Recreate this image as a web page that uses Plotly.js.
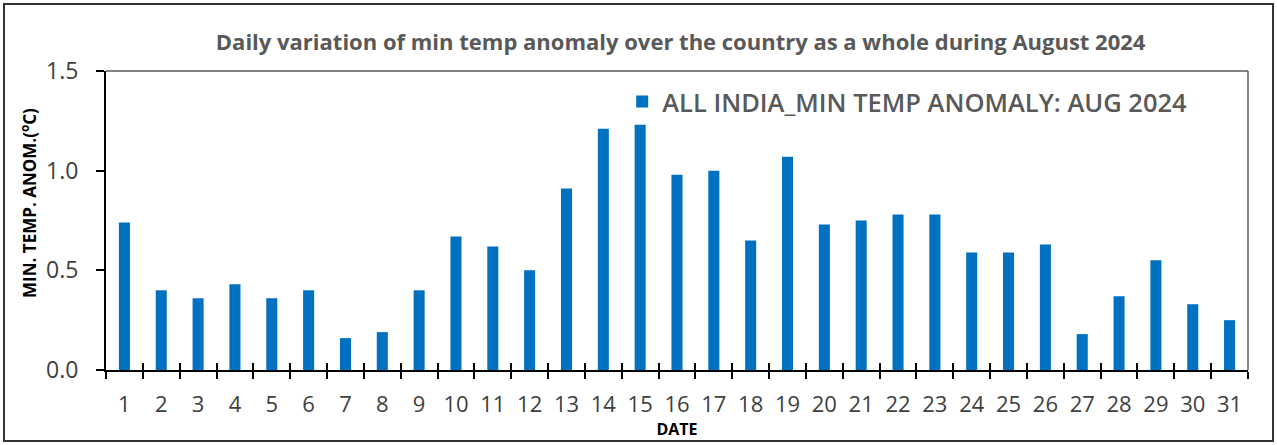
<!DOCTYPE html>
<html><head><meta charset="utf-8">
<script src="https://cdn.plot.ly/plotly-3.0.1.min.js"></script>
<style>
body{margin:0;background:#fff;}
#chart{width:1277px;height:445px;}
#frame{position:absolute;left:3px;top:3px;width:1271px;height:439px;box-sizing:border-box;border:2px solid #333;pointer-events:none;}
</style></head>
<body>
<div id="chart"></div>
<div id="frame"></div>
<script>
const days = [1,2,3,4,5,6,7,8,9,10,11,12,13,14,15,16,17,18,19,20,21,22,23,24,25,26,27,28,29,30,31];
const anomaly = [0.74,0.40,0.36,0.43,0.36,0.40,0.16,0.19,0.40,0.67,0.62,0.50,0.91,1.21,1.23,0.98,1.00,0.65,1.07,0.73,0.75,0.78,0.78,0.59,0.59,0.63,0.18,0.37,0.55,0.33,0.25];
const seriesName = 'ALL INDIA_MIN TEMP ANOMALY: AUG 2024';
const titleText = 'Daily variation of min temp anomaly over the country as a whole during August 2024';
const yTitle = 'MIN. TEMP. ANOM.(<sup>o</sup>C)';
const xTitle = 'DATE';
const yTicks = [0, 0.5, 1.0, 1.5];
const boundaries = days.map(d => d - 0.5).concat([days[days.length-1] + 0.5]);

const font = '"Open Sans", sans-serif';

const trace = {
  type: 'bar', x: days, y: anomaly, name: seriesName,
  marker: {color: '#0070C0'}, showlegend: true
};
const dummy = {type:'scatter', x:[days[0]], y:[0], xaxis:'x2', mode:'none', showlegend:false, hoverinfo:'skip'};

const layout = {
  width: 1277, height: 445,
  margin: {l: 106, r: 29, t: 71, b: 75},
  paper_bgcolor: '#fff', plot_bgcolor: '#fff',
  bargap: 0.7,
  title: {text: '<b>' + titleText + '</b>', font: {family: font, size: 22, color: '#595959'}, x: 0.533, xanchor: 'center', y: 0.905, yanchor: 'middle'},
  xaxis: {
    type: 'linear', range: [0.5, 31.5],
    tickmode: 'array', tickvals: days, ticktext: days.map(String),
    ticks: '', showgrid: false, zeroline: false,
    showline: true, linecolor: '#000', linewidth: 2,
    tickfont: {family: font, size: 22, color: '#404040'},
    ticklabelstandoff: 14,
    minor: {tickmode: 'array', tickvals: boundaries, ticks: 'outside', ticklen: 7, tickwidth: 2, tickcolor: '#000', showgrid: false},
    title: {text: '<b>' + xTitle + '</b>', font: {family: font, size: 16, color: '#000'}, standoff: 0}
  },
  xaxis2: {
    overlaying: 'x', side: 'bottom', anchor: 'y', type: 'linear', range: [0.5, 31.5],
    tickmode: 'array', tickvals: boundaries, ticks: 'inside', ticklen: 7, tickwidth: 2, tickcolor: '#000',
    showticklabels: false, showgrid: false, zeroline: false, showline: false
  },
  yaxis: {
    range: [0, 1.5], tickmode: 'array', tickvals: yTicks, tickformat: '.1f',
    ticks: 'outside', ticklen: 8, tickwidth: 2, tickcolor: '#000',
    showline: true, linecolor: '#000', linewidth: 2,
    showgrid: false, zeroline: false,
    tickfont: {family: font, size: 23, color: '#404040'},
    ticklabelstandoff: 13
  },
  annotations: [
    {text: '<b>' + yTitle + '</b>', xref: 'paper', yref: 'paper', x: -0.068, y: 0.56, textangle: -90,
     showarrow: false, xanchor: 'center', yanchor: 'middle', font: {family: font, size: 17, color: '#000'}}
  ],
  legend: {
    x: 0.452, y: 0.975, xanchor: 'left', yanchor: 'top',
    font: {family: font, size: 25.5, color: '#595959', weight: 600}, bgcolor: 'rgba(0,0,0,0)'
  },
  shapes: [
    {type:'line', xref:'paper', yref:'paper', x0:0, x1:1, y0:1, y1:1, line:{color:'#595959', width:1.5}},
    {type:'line', xref:'paper', yref:'paper', x0:1, x1:1, y0:0, y1:1, line:{color:'#595959', width:1.5}}
  ]
};
Plotly.newPlot('chart', [trace, dummy], layout, {displayModeBar: false, staticPlot: true});
</script>
</body></html>
